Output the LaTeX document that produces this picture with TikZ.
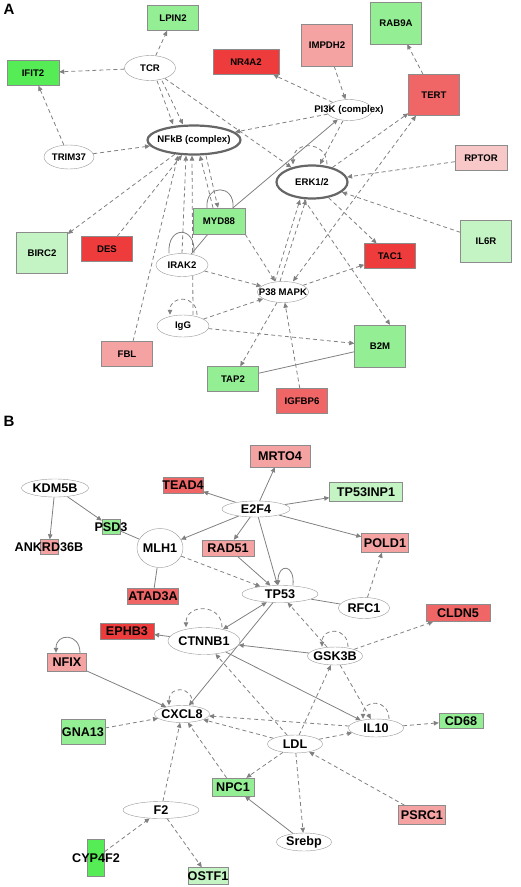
\documentclass[tikz,border=0pt]{standalone}
\usepackage{fontspec}
\setmainfont{Liberation Sans}
\usetikzlibrary{shapes.geometric, arrows.meta}

\definecolor{grnS}{HTML}{55EC55}
\definecolor{grnM}{HTML}{94EE94}
\definecolor{grnL}{HTML}{C4F4C4}
\definecolor{redS}{HTML}{EE3C3C}
\definecolor{redM}{HTML}{F06666}
\definecolor{pnkM}{HTML}{F4A2A2}
\definecolor{pnkL}{HTML}{F8C8C8}

\pgfdeclarelayer{bg}
\pgfsetlayers{bg,main}

\tikzset{
  >={Triangle[length=5pt,width=4.5pt]},
  gene/.style n args={3}{rectangle, draw=black!45, fill=#1, minimum width=#2,
    minimum height=#3, inner sep=0pt},
  mol/.style 2 args={ellipse, draw=black!40, fill=white, minimum width=#1,
    minimum height=#2, inner sep=0pt},
  hub/.style={line width=2.2pt, draw=black!60},
  bind/.style={draw=black!50, line width=0.8pt},
  act/.style={bind, ->},
  ind/.style={act, dash pattern=on 4pt off 3pt},
  panel/.style={font=\bfseries\fontsize{15}{16}\selectfont},
}

\begin{document}
\begin{tikzpicture}[x=1pt, y=1pt]
  \useasboundingbox (0,0) rectangle (520,-887);

  % Panel A
  \begin{scope}[every label/.style={font=\bfseries\fontsize{9.6}{11}\selectfont, inner sep=0pt}]
    \node[panel] (lblA) at (9,-9) {A};

    \node[gene={grnM}{51}{25}, label=center:LPIN2] (lpin) at (173,-18) {};
    \node[gene={grnS}{52}{25}, label=center:IFIT2] (ifit) at (33,-73) {};
    \node[mol={51}{25}, label=center:TCR] (tcr) at (150,-68) {};
    \node[gene={redS}{66}{25}, label=center:NR4A2] (nr4a) at (246,-62) {};
    \node[gene={pnkM}{51}{42}, label=center:IMPDH2] (impdh) at (327,-45) {};
    \node[gene={grnM}{51}{42}, label=center:RAB9A] (rab) at (396,-23) {};
    \node[gene={redM}{51}{41}, label=center:TERT] (tert) at (434,-95) {};
    \node[mol={50}{24}, label=center:TRIM37] (trim) at (69,-157) {};
    \node[mol={93}{29}, hub, label=center:NFkB (complex)] (nfkb) at (194,-140) {};
    \node[mol={46}{21}, label=center:PI3K (complex)] (pik) at (349,-110) {};
    \node[gene={pnkL}{52}{25}, label=center:RPTOR] (rptor) at (481,-158) {};
    \node[mol={71}{33}, hub, label=center:ERK1/2] (erk) at (312,-182) {};
    \node[gene={grnM}{52}{26}, label=center:MYD88] (myd) at (219,-221) {};
    \node[gene={grnL}{51}{41}, label=center:BIRC2] (birc) at (42,-253) {};
    \node[gene={redS}{51}{25}, label=center:DES] (des) at (107,-249) {};
    \node[gene={grnL}{51}{42}, label=center:IL6R] (il6r) at (486,-241) {};
    \node[gene={redS}{51}{25}, label=center:TAC1] (tac) at (390,-256) {};
    \node[mol={52}{23}, label=center:IRAK2] (irak) at (182,-265) {};
    \node[mol={51}{21}, label=center:P38 MAPK] (p38) at (283,-292) {};
    \node[mol={52}{22}, label=center:IgG] (igg) at (183,-326) {};
    \node[gene={pnkM}{51}{25}, label=center:FBL] (fbl) at (127,-354) {};
    \node[gene={grnM}{51}{42}, label=center:B2M] (b2m) at (380,-346) {};
    \node[gene={grnM}{51}{25}, label=center:TAP2] (tap) at (233,-379) {};
    \node[gene={redM}{51}{25}, label=center:IGFBP6] (igfbp) at (302,-401) {};

    \begin{pgfonlayer}{bg}
      \foreach \a/\b in {tcr/lpin, tcr/ifit, trim/ifit, trim/nfkb, tcr/erk,
          pik/nfkb, pik/nr4a, impdh/pik, erk/tert, tert/rab, rptor/erk,
          il6r/erk, erk/tac, p38/tac, irak/p38, igg/p38, igg/b2m, p38/tap,
          igfbp/p38, nfkb/birc, des/nfkb}
        \draw[ind] (\a) -- (\b);

      \draw[ind] ([xshift=7pt]tcr.south) -- ([xshift=-21pt]nfkb.north);
      \draw[ind] ([xshift=12pt]tcr.south) -- ([xshift=-11pt]nfkb.north);
      \draw[ind] ([xshift=-6pt]pik.south) -- ([xshift=8pt]erk.north);
      \draw[ind] ([xshift=-8pt]erk.south) -- ([xshift=10pt]b2m.north);
      \draw[ind] ([xshift=-8pt]p38.north) -- ([xshift=-12pt]erk.south);
      \draw[ind] ([xshift=-3pt]p38.north) -- ([xshift=-6pt]erk.south);
      \draw[ind, <->] ([xshift=10pt]p38.north) -- ([xshift=-18pt]tert.south);
      \draw[ind] (myd.south east) -- ([xshift=-8pt]p38.north);
      \draw[ind] ([xshift=6pt]fbl.north) -- ([xshift=-16pt]nfkb.south);
      \draw[ind] (irak.north) -- ([xshift=-8pt]nfkb.south);
      \draw[ind] ([xshift=10pt]igg.north) -- ([xshift=-2pt]nfkb.south);
      \draw[ind] ([xshift=-6pt]myd.north) -- ([xshift=6pt]nfkb.south);
      \draw[ind] ([xshift=12pt]nfkb.south) -- ([xshift=-1pt]myd.north);

      \draw[act] ([xshift=14pt]myd.north) -- (pik);
      \draw[bind] (irak) -- (myd);
      \draw[bind] (tap) -- (b2m);

      % self loops
      \draw[bind] ([xshift=-12pt]myd.north) .. controls +(-2,24) and +(2,24) .. ([xshift=14pt]myd.north);
      \draw[bind] ([xshift=-13pt]irak.north) .. controls +(-2,28) and +(2,28) .. ([xshift=12pt]irak.north);
      \draw[ind] ([xshift=14pt]igg.north) .. controls +(0,20) and +(0,20) .. ([xshift=-13pt]igg.north);
      \draw[ind] ([xshift=15pt]erk.north) .. controls +(0,24) and +(0,24) .. ([xshift=-19pt]erk.north);
    \end{pgfonlayer}
  \end{scope}

  % Panel B
  \begin{scope}[every label/.style={font=\bfseries\fontsize{12.6}{14}\selectfont, inner sep=0pt}]
    \node[panel] (lblB) at (9,-421) {B};

    \node[gene={pnkM}{60}{22}, label=center:MRTO4] (mrto) at (280,-456) {};
    \node[mol={67}{18}, label=center:KDM5B] (kdm) at (55,-488) {};
    \node[gene={redM}{40}{16}, label=center:TEAD4] (tead) at (183,-485) {};
    \node[mol={68}{16}, label=center:E2F4] (e2f) at (256,-509) {};
    \node[gene={grnL}{73}{19}, label=center:TP53INP1] (tpinp) at (366,-492) {};
    \node[gene={grnM}{18}{15}, label=center:PSD3] (psd) at (111,-527) {};
    \node[gene={pnkM}{18}{15}, label=center:ANKRD36B] (ankrd) at (49,-547) {};
    \node[mol={46}{39}, label=center:MLH1] (mlh) at (160,-548) {};
    \node[gene={pnkM}{52}{16}, label=center:RAD51] (rad) at (228,-548) {};
    \node[gene={pnkM}{47}{19}, label=center:POLD1] (pold) at (385,-543) {};
    \node[gene={redM}{51}{16}, label=center:ATAD3A] (atad) at (153,-596) {};
    \node[mol={76}{17}, label=center:TP53] (tp53) at (280,-594) {};
    \node[mol={51}{21}, label=center:RFC1] (rfc) at (364,-608) {};
    \node[gene={redM}{64}{17}, label=center:CLDN5] (cldn) at (458,-613) {};
    \node[gene={redS}{54}{16}, label=center:EPHB3] (ephb) at (127,-631) {};
    \node[mol={72}{27}, label=center:CTNNB1] (ctnnb) at (204,-641) {};
    \node[mol={55}{18}, label=center:GSK3B] (gsk) at (335,-656) {};
    \node[gene={pnkM}{39}{18}, label=center:NFIX] (nfix) at (67,-662) {};
    \node[mol={55}{17}, label=center:CXCL8] (cxcl) at (182,-714) {};
    \node[gene={grnM}{44}{25}, label=center:GNA13] (gna) at (83,-732) {};
    \node[mol={55}{18}, label=center:IL10] (il10) at (376,-728) {};
    \node[gene={grnM}{44}{15}, label=center:CD68] (cd68) at (461,-721) {};
    \node[mol={55}{18}, label=center:LDL] (ldl) at (295,-744) {};
    \node[gene={grnM}{42}{18}, label=center:NPC1] (npc) at (233,-787) {};
    \node[mol={76}{17}, label=center:F2] (f2) at (161,-810) {};
    \node[gene={pnkM}{47}{19}, label=center:PSRC1] (psrc) at (422,-815) {};
    \node[mol={55}{18}, label=center:Srebp] (srebp) at (304,-842) {};
    \node[gene={grnS}{17}{37}, label=center:CYP4F2] (cyp) at (96,-858) {};
    \node[gene={grnL}{40}{17}, label=center:OSTF1] (ostf) at (208,-876) {};

    \begin{pgfonlayer}{bg}
      \foreach \a/\b in {kdm/ankrd, kdm/psd, e2f/tead, e2f/mrto, e2f/tpinp,
          e2f/pold, e2f/mlh, e2f/rad, e2f/tp53, rad/tp53, tp53/cxcl,
          ctnnb/ephb, gsk/ctnnb, ctnnb/il10, srebp/npc, nfix/cxcl}
        \draw[act] (\a) -- (\b);

      \foreach \a/\b in {mlh/tp53, rfc/pold, gsk/tp53, gsk/cldn, gsk/il10,
          il10/cd68, il10/cxcl, ldl/cxcl, ldl/gsk, ldl/il10, ldl/ctnnb,
          ldl/npc, ldl/srebp, psrc/ldl, npc/cxcl, gna/cxcl, f2/cxcl,
          f2/ostf, cyp/f2}
        \draw[ind] (\a) -- (\b);

      \draw[act, <->] (ctnnb) -- (tp53);
      \foreach \a/\b in {psd/mlh, mlh/atad, tp53/rfc}
        \draw[bind] (\a) -- (\b);

      % self loops
      \draw[act] ([xshift=13pt]tp53.north) .. controls +(2,22) and +(0,22) .. ([xshift=-2pt]tp53.north);
      \draw[ind] ([xshift=18pt]ctnnb.north) .. controls +(0,24) and +(0,24) .. ([xshift=-18pt]ctnnb.north);
      \draw[ind] ([xshift=13pt]gsk.north) .. controls +(0,20) and +(0,20) .. ([xshift=-13pt]gsk.north);
      \draw[ind] ([xshift=11pt]cxcl.north) .. controls +(0,20) and +(0,20) .. ([xshift=-13pt]cxcl.north);
      \draw[ind] ([xshift=13pt]il10.north) .. controls +(0,20) and +(0,20) .. ([xshift=-13pt]il10.north);
      \draw[act] ([xshift=13pt]nfix.north) .. controls +(0,20) and +(0,20) .. ([xshift=-11pt]nfix.north);
    \end{pgfonlayer}
  \end{scope}
\end{tikzpicture}
\end{document}
